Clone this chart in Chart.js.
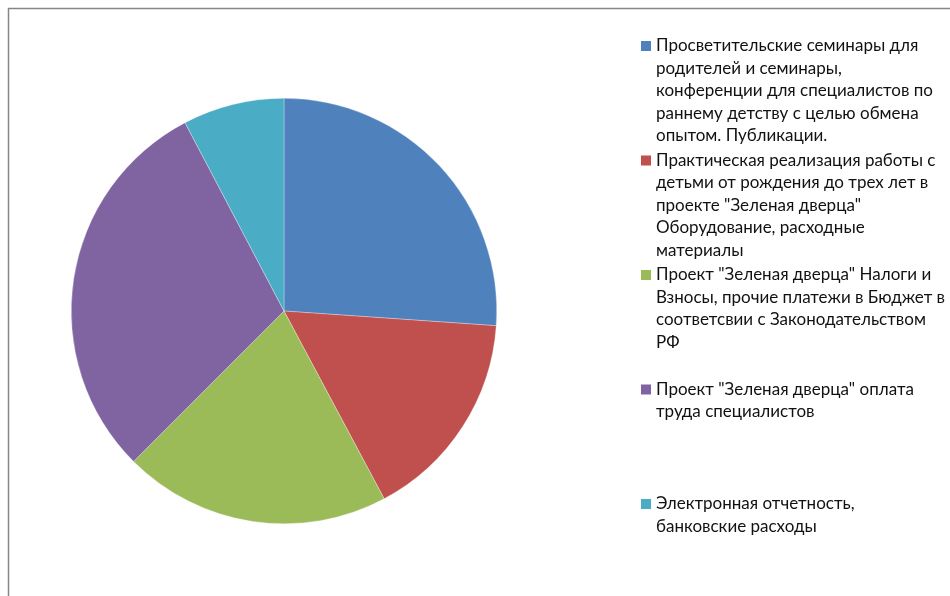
<!DOCTYPE html>
<html>
<head>
<meta charset="utf-8">
<script src="https://cdn.jsdelivr.net/npm/chart.js@4"></script>
<style>
  html, body { margin: 0; padding: 0; background: #fff; }
  #wrap { width: 950px; height: 596px; position: relative; }
</style>
</head>
<body>
<div id="wrap"><canvas id="pie"></canvas></div>
<script>
// data (share of budget, %)
const categories = [
    ['Просветительские семинары для', 'родителей и семинары,', 'конференции для специалистов по', 'раннему детству с целью обмена', 'опытом. Публикации.'],
    ['Практическая реализация работы с', 'детьми от рождения до трех лет в', 'проекте "Зеленая дверца"', 'Оборудование, расходные', 'материалы'],
    ['Проект "Зеленая дверца" Налоги и', 'Взносы, прочие платежи в Бюджет в', 'соответсвии с Законодательством', 'РФ'],
    ['Проект "Зеленая дверца" оплата', 'труда специалистов'],
    ['Электронная отчетность,', 'банковские расходы']
];
const shares = [26.1, 16.1, 20.3, 29.8, 7.7];
const colors = ['#4F81BD', '#C0504D', '#9BBB59', '#8064A2', '#4BACC6'];

// frame + wrapped legend drawn on the canvas
const framePlugin = {
    id: 'frame',
    beforeDraw(chart) {
        const ctx = chart.ctx;
        ctx.save();
        ctx.strokeStyle = '#868686';
        ctx.lineWidth = 1.5;
        ctx.strokeRect(8.5, 8.5, 1000, 700);
        ctx.restore();
    },
    afterDraw(chart) {
        const ctx = chart.ctx;
        const ds = chart.data.datasets[0];
        const x0 = 641, tx = 656, lineH = 22.4;
        const slotY = [46, 160.5, 275, 389.5, 504];
        ctx.save();
        ctx.font = '17px Lato';
        ctx.textBaseline = 'middle';
        chart.data.labels.forEach((lines, i) => {
            const y = slotY[i];
            ctx.fillStyle = ds.backgroundColor[i];
            ctx.fillRect(x0, y - 5, 10, 10);
            ctx.fillStyle = '#111';
            lines.forEach((ln, j) => ctx.fillText(ln, tx, y + j * lineH));
        });
        ctx.restore();
    }
};

new Chart(document.getElementById('pie'), {
    type: 'pie',
    data: {
        labels: categories,
        datasets: [{
            data: shares,
            backgroundColor: colors,
            borderColor: 'rgba(255,255,255,0.6)',
            borderWidth: 0.5
        }]
    },
    options: {
        responsive: true,
        maintainAspectRatio: false,
        animation: false,
        layout: { padding: { left: 71, top: 98, right: 453, bottom: 72 } },
        plugins: {
            legend: { display: false },
            tooltip: { enabled: false }
        }
    },
    plugins: [framePlugin]
});
</script>
</body>
</html>
